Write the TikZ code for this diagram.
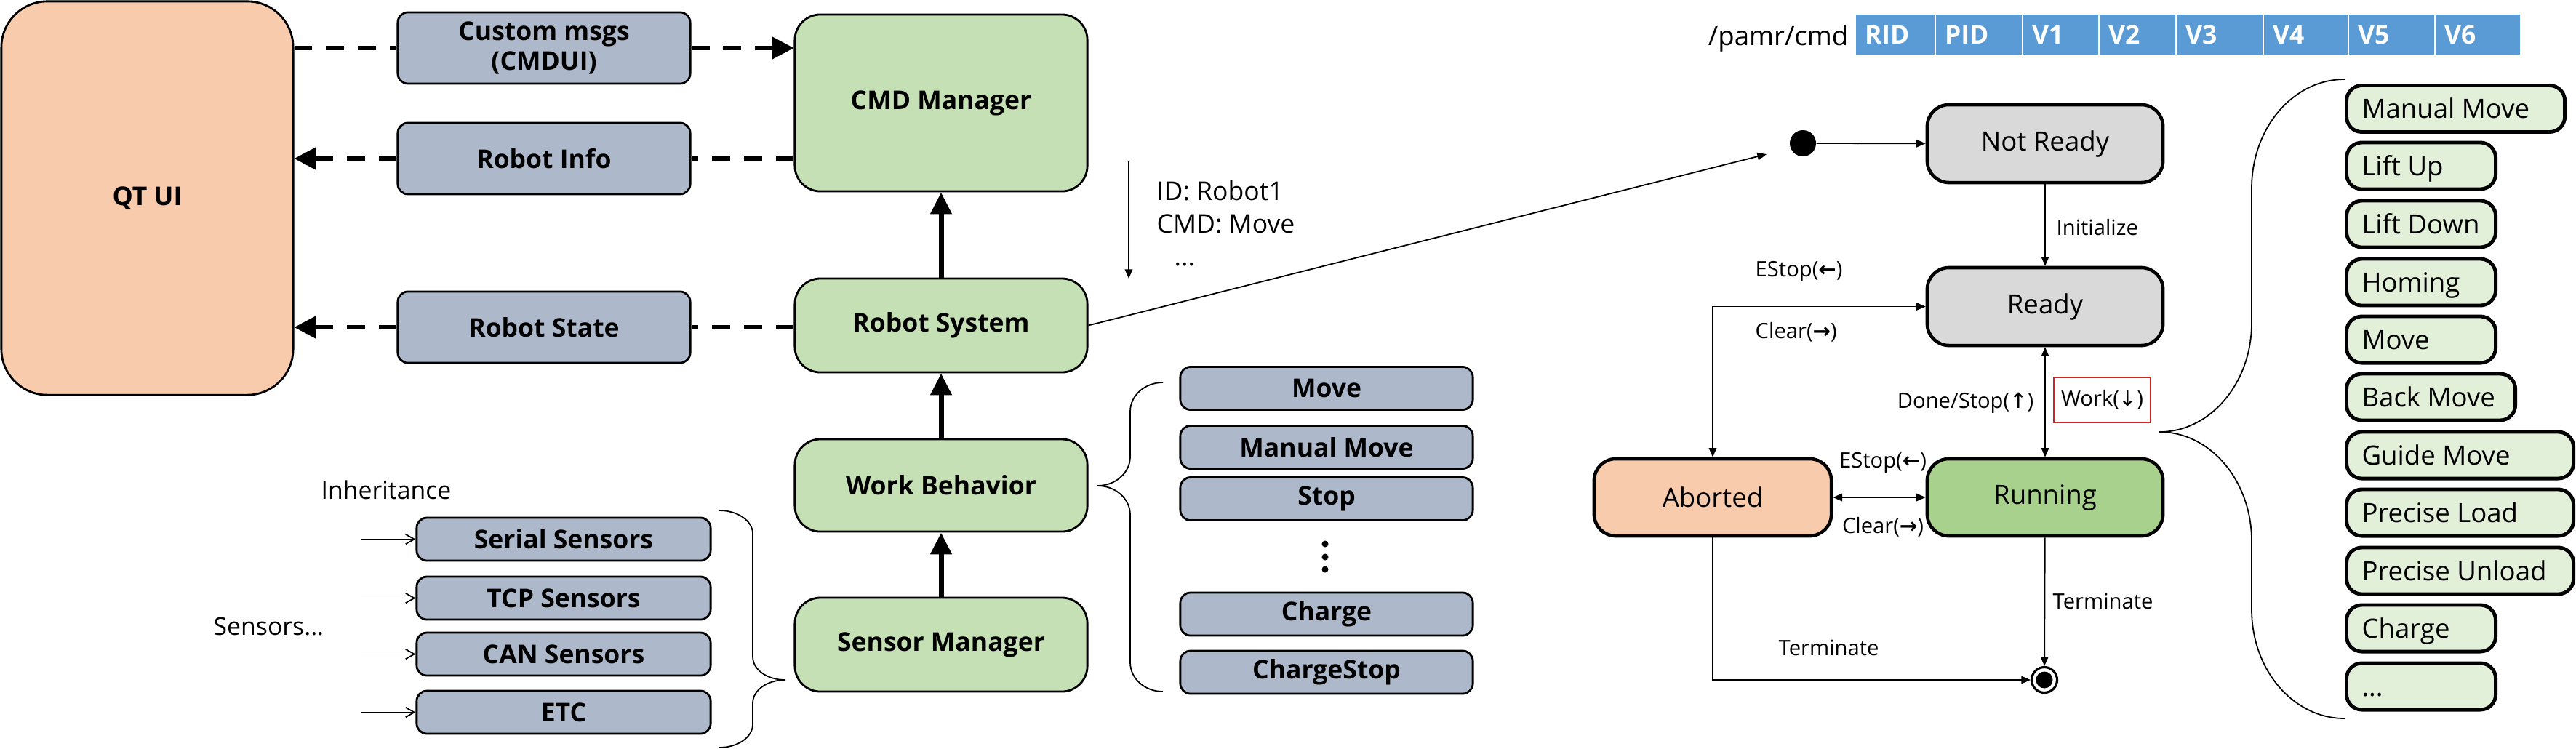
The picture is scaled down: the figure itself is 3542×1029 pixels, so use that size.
\documentclass[tikz,border=0pt]{standalone}
\usepackage{fontspec}
\setmainfont{Open Sans}
\newfontfamily\arrf{DejaVu Sans}
\usetikzlibrary{arrows.meta,calc}
\definecolor{qtc}{HTML}{F8CBAD}
\definecolor{grayc}{HTML}{ADB9CA}
\definecolor{greenc}{HTML}{C5E0B4}
\definecolor{runc}{HTML}{A9D18E}
\definecolor{statec}{HTML}{D9D9D9}
\definecolor{listc}{HTML}{E2F0D9}
\definecolor{tabc}{HTML}{5B9BD5}
\definecolor{redc}{HTML}{D02424}
\newcommand\fsB{\fontsize{10.1pt}{11.5pt}\selectfont\bfseries}
\newcommand\fsR{\fontsize{10.1pt}{12pt}\selectfont}
\newcommand\fsS{\fontsize{10.4pt}{12pt}\selectfont}
\newcommand\fsT{\fontsize{8.3pt}{10pt}\selectfont}
\newcommand\fsI{\fontsize{9.6pt}{11pt}\selectfont}
\newcommand\la{{\arrf\bfseries ←}}
\newcommand\ra{{\arrf\bfseries →}}
\newcommand\ua{{\arrf ↑}}
\newcommand\da{{\arrf ↓}}
\newcommand\mylist[4]{\node[lbox, minimum width=#3cm] (#1) at (3224,#2) {\makebox[\dimexpr#3cm-0.42cm\relax][l]{#4}};}
\begin{document}
\begin{tikzpicture}[x=0.01cm,y=-0.01cm,
  qtbox/.style={draw, fill=qtc, line width=0.8pt, rounded corners=18pt, font=\fsB, inner sep=0pt},
  gbox/.style={draw, fill=grayc, line width=0.8pt, rounded corners=4pt, minimum width=4.02cm, minimum height=0.59cm, font=\fsB, inner sep=0pt},
  grbox/.style={draw, fill=greenc, line width=0.8pt, rounded corners=10pt, minimum width=4.02cm, font=\fsB, inner sep=0pt},
  stbox/.style={draw, line width=1.3pt, rounded corners=8.5pt, minimum width=3.24cm, minimum height=1.07cm, font=\fsS, inner sep=0pt},
  lbox/.style={draw, fill=listc, line width=1.4pt, rounded corners=6pt, minimum height=0.64cm, anchor=west, font=\fsS, inner sep=0pt, text height=8.9pt, text depth=1.5pt},
  cell/.style={fill=tabc, draw=white, line width=0.8pt, minimum height=0.57cm, anchor=west, font=\fsB, text=white, inner sep=0pt, outer sep=0pt},
  txt/.style={inner sep=0pt, anchor=base west},
  dsh/.style={line width=1.6pt, dash pattern=on 7.1pt off 5.4pt},
  dtip/.style={-{Triangle[length=8.5pt,width=8.5pt]}},
  thk/.style={line width=2pt, -{Triangle[length=8.5pt,width=8pt]}},
  thn/.style={line width=0.5pt},
  ttip/.style={-{Triangle[length=3.6pt,width=3pt]}},
  tboth/.style={{Triangle[length=3.6pt,width=3pt]}-{Triangle[length=3.6pt,width=3pt]}},
  barb/.style={-{Straight Barb[length=3.4pt,width=3.8pt]}},
  brc/.style={line width=0.5pt}
]
\useasboundingbox (0,0) rectangle (3542,1029);
\fill[white] (0,0) rectangle (3542,1029);

% ---------- left architecture ----------
\node[qtbox, minimum width=4.01cm, minimum height=5.41cm] (qt) at (202.5,272.5) {QT UI};
\node[gbox, minimum height=0.98cm, align=center] (cm) at (748,66) {Custom msgs\\(CMDUI)};
\node[gbox, minimum height=0.98cm] (ri) at (748,218) {Robot Info};
\node[gbox, minimum height=0.98cm] (rst) at (748,450) {Robot State};
\node[grbox, minimum height=2.43cm] (cmd) at (1294,141.5) {CMD Manager};
\node[grbox, minimum height=1.29cm] (rs) at (1294,447.5) {Robot System};
\node[grbox, minimum height=1.27cm] (wb) at (1294,667.5) {Work Behavior};
\node[grbox, minimum height=1.29cm] (sm) at (1294,886.5) {Sensor Manager};

\draw[dsh] (cm.west -| qt.east) -- (cm.west);
\draw[dsh, dtip] (cm.east) -- (cm.east -| cmd.west);
\draw[dsh] (ri.east -| cmd.west) -- (ri.east);
\draw[dsh, dtip] (ri.west) -- (ri.west -| qt.east);
\draw[dsh] (rst.east -| rs.west) -- (rst.east);
\draw[dsh, dtip] (rst.west) -- (rst.west -| qt.east);

\draw[thk] (rs) -- (cmd);
\draw[thk] (wb) -- (rs);
\draw[thk] (sm) -- (wb);

\coordinate (idtop) at (1552,222);
\coordinate (idbot) at (1552,383);
\draw[thn, ttip] (idtop) -- (idbot);
\node[txt, font=\fsR] (id1) at (1590,275) {ID: Robot1};
\node[txt, font=\fsR] (id2) at (1590,320) {CMD: Move};
\node[txt, font=\fsR] (id3) at (1614,365) {...};

% work behaviors
\node[gbox] (wmove) at (1824,534) {Move};
\node[gbox] (wman) at (1824,615) {Manual Move};
\node[gbox] (wstop) at (1824,686) {Stop};
\node[gbox] (wchg) at (1824,844.5) {Charge};
\node[gbox] (wcs) at (1824,924.5) {ChargeStop};
\fill (1822,748) circle[radius=0.045cm];
\fill (1822,766) circle[radius=0.045cm];
\fill (1822,783) circle[radius=0.045cm];
\draw[brc] (1599,526) .. controls (1574,526) and (1554,544) .. (1554,566) -- (1554,628)
  .. controls (1554,650) and (1534,668) .. (1509,668)
  .. controls (1534,668) and (1554,686) .. (1554,708) -- (1554,911)
  .. controls (1554,933) and (1574,951) .. (1599,951);

% sensors
\node[gbox, minimum width=4.04cm] (ss) at (775,741.5) {Serial Sensors};
\node[gbox, minimum width=4.04cm] (ts) at (775,822.5) {TCP Sensors};
\node[gbox, minimum width=4.04cm] (cs) at (775,899.5) {CAN Sensors};
\node[gbox, minimum width=4.04cm] (es) at (775,979.5) {ETC};
\coordinate (s1) at (496,741.5);
\coordinate (s2) at (496,822.5);
\coordinate (s3) at (496,899.5);
\coordinate (s4) at (496,979.5);
\draw[thn, barb] (s1) -- (ss.west);
\draw[thn, barb] (s2) -- (ts.west);
\draw[thn, barb] (s3) -- (cs.west);
\draw[thn, barb] (s4) -- (es.west);
\node[txt, font=\fsI] (inh) at (441,686) {Inheritance};
\node[txt, font=\fsI] (sens) at (293,873) {Sensors...};
\draw[brc] (989,702) .. controls (1014,702) and (1035,716) .. (1035,734) -- (1035,903)
  .. controls (1035,921) and (1055,935) .. (1080,935)
  .. controls (1055,935) and (1035,949) .. (1035,967) -- (1035,996)
  .. controls (1035,1014) and (1014,1028) .. (989,1028);

% ---------- state machine ----------
\node[circle, fill=black, minimum size=0.36cm, inner sep=0pt] (init) at (2479,197) {};
\node[stbox, fill=statec] (nr) at (2812,197.5) {Not Ready};
\node[stbox, fill=statec] (rd) at (2812,421.5) {Ready};
\node[stbox, fill=qtc, minimum width=3.26cm, minimum height=1.06cm] (ab) at (2355,684) {Aborted};
\node[stbox, fill=runc, minimum height=1.06cm] (rn) at (2812,684) {Running};
\node[circle, draw, line width=0.9pt, fill=white, minimum size=0.35cm, inner sep=0pt] (fin) at (2811,935) {};
\fill (fin.center) circle[radius=0.115cm];

\coordinate (initin) at (2429,212);
\draw[thn, ttip] (rs.east) -- (initin);
\draw[thn, ttip] (init) -- (nr);
\draw[thn, ttip] (nr) -- (rd);
\draw[thn, tboth] (ab.north) |- (rd.west);
\draw[thn, tboth] (rd) -- (rn);
\draw[thn, tboth] (ab) -- (rn);
\draw[thn, ttip] (rn) -- (fin);
\draw[thn, ttip] (ab.south) |- (fin.west);

\node[txt, font=\fsT] (linit) at (2827,323) {Initialize};
\node[txt, font=\fsT] (les1) at (2413,380) {EStop(\la)};
\node[txt, font=\fsT] (lcl1) at (2413,465) {Clear(\ra)};
\node[inner sep=0pt, anchor=base east, font=\fsT] (ldone) at (2797,561) {Done/Stop(\ua)};
\node[draw=redc, line width=0.7pt, minimum width=1.33cm, minimum height=0.62cm, inner sep=0pt, font=\fsT] (lwork) at (2890.5,550) {Work(\da)};
\node[inner sep=0pt, anchor=base, font=\fsT] (les2) at (2589,643) {EStop(\la)};
\node[inner sep=0pt, anchor=base, font=\fsT] (lcl2) at (2589,733) {Clear(\ra)};
\node[txt, font=\fsT] (lt1) at (2822,837) {Terminate};
\node[txt, font=\fsT] (lt2) at (2445,901) {Terminate};

% ---------- command table ----------
\node[inner sep=0pt, anchor=base east, font=\fontsize{10.4pt}{12pt}\selectfont] (topic) at (2542,62) {/pamr/cmd};
\foreach \x/\w/\t [count=\i] in {2551/1.10/RID, 2661/1.20/PID, 2781/1.05/V1, 2886/1.06/V2, 2992/1.20/V3, 3112/1.17/V4, 3229/1.19/V5, 3348/1.18/V6}
  \node[cell, minimum width=\w cm] (cell\i) at (\x,47.5) {\makebox[\dimexpr\w cm-0.26cm\relax][l]{\t}};

% ---------- work list ----------
\mylist{l1}{149.5}{3.00}{Manual Move}
\mylist{l2}{228}{2.05}{Lift Up}
\mylist{l3}{308}{2.05}{Lift Down}
\mylist{l4}{388}{2.05}{Homing}
\mylist{l5}{467}{2.05}{Move}
\mylist{l6}{546}{2.32}{Back Move}
\mylist{l7}{626}{3.12}{Guide Move}
\mylist{l8}{705}{3.12}{Precise Load}
\mylist{l9}{785}{3.12}{Precise Unload}
\mylist{l10}{864}{2.05}{Charge}
\mylist{l11}{944}{2.05}{...}
\draw[brc] (3224,109) .. controls (3153,109) and (3096,176) .. (3096,259) -- (3096,444)
  .. controls (3096,527) and (3039,594) .. (2969,594)
  .. controls (3039,594) and (3096,661) .. (3096,744) -- (3096,838)
  .. controls (3096,921) and (3153,988) .. (3224,988);
\end{tikzpicture}
\end{document}
